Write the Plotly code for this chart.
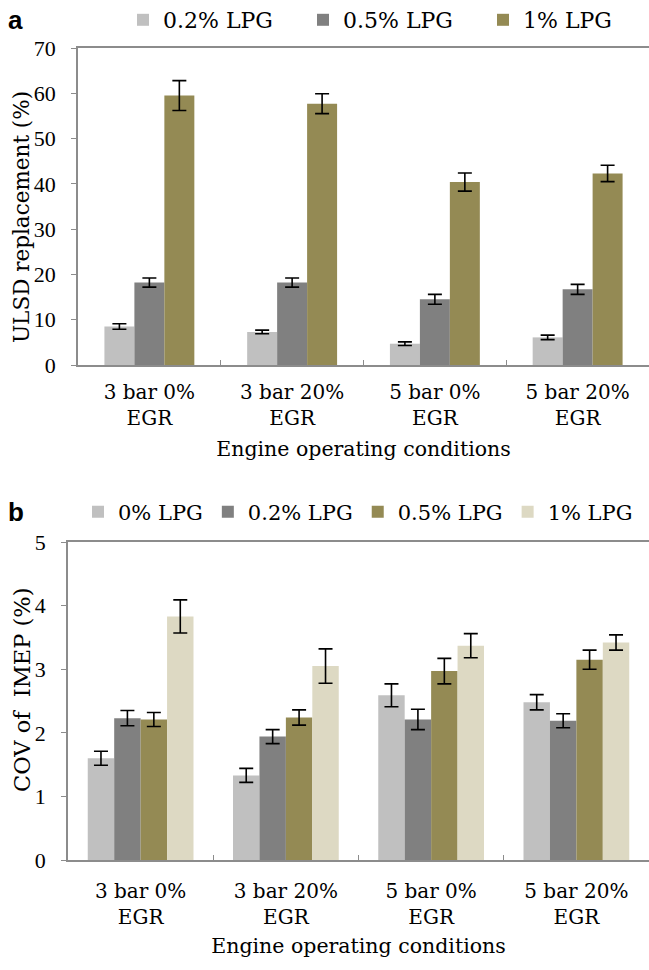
import plotly.graph_objects as go

# Engine operating conditions (x categories)
conditions = ["3 bar 0%<br>EGR", "3 bar 20%<br>EGR", "5 bar 0%<br>EGR", "5 bar 20%<br>EGR"]

# (a) ULSD replacement (%) with standard-deviation error bars
ulsd_names = ["0.2% LPG", "0.5% LPG", "1% LPG"]
ulsd_02 = [8.5, 7.3, 4.7, 6.1]
ulsd_02_err = [0.6, 0.4, 0.4, 0.5]
ulsd_05 = [18.2, 18.2, 14.5, 16.7]
ulsd_05_err = [1.0, 1.0, 1.1, 1.1]
ulsd_1 = [59.5, 57.7, 40.4, 42.3]
ulsd_1_err = [3.3, 2.2, 2.0, 1.8]

# (b) COV of IMEP (%) with error bars
cov_names = ["0% LPG", "0.2% LPG", "0.5% LPG", "1% LPG"]
cov_0 = [1.60, 1.33, 2.59, 2.48]
cov_0_err = [0.11, 0.11, 0.18, 0.12]
cov_02 = [2.23, 1.94, 2.21, 2.19]
cov_02_err = [0.12, 0.11, 0.16, 0.11]
cov_05 = [2.21, 2.24, 2.97, 3.15]
cov_05_err = [0.11, 0.12, 0.20, 0.15]
cov_1 = [3.83, 3.05, 3.37, 3.42]
cov_1_err = [0.26, 0.27, 0.19, 0.12]

ulsd_ticks = [0, 10, 20, 30, 40, 50, 60, 70]
cov_ticks = [0, 1, 2, 3, 4, 5]

LIGHT = "#c0c0c0"
DARK = "#808080"
OLIVE = "#948a54"
CREAM = "#ddd9c3"
AXIS = "#8c8c8c"
SERIF = "DejaVu Serif"
NUMS = "Liberation Serif"

W, H = 649, 970

fig = go.Figure()

# panel (a): three bars per group
wa = 0.21
for i, (name, vals, errs, col) in enumerate(zip(
        ulsd_names, [ulsd_02, ulsd_05, ulsd_1],
        [ulsd_02_err, ulsd_05_err, ulsd_1_err], [LIGHT, DARK, OLIVE])):
    fig.add_trace(go.Bar(
        x=conditions, y=vals, name=name, marker_color=col, marker_line_width=0,
        width=wa, offset=-1.5 * wa + i * wa,
        error_y=dict(type="data", array=errs, color="black", thickness=1.6, width=7),
        xaxis="x", yaxis="y", legend="legend"))

# panel (b): four bars per group
wb = 0.182
for i, (name, vals, errs, col) in enumerate(zip(
        cov_names, [cov_0, cov_02, cov_05, cov_1],
        [cov_0_err, cov_02_err, cov_05_err, cov_1_err], [LIGHT, DARK, OLIVE, CREAM])):
    fig.add_trace(go.Bar(
        x=conditions, y=vals, name=name, marker_color=col, marker_line_width=0,
        width=wb, offset=-2 * wb + i * wb,
        error_y=dict(type="data", array=errs, color="black", thickness=1.6, width=7),
        xaxis="x2", yaxis="y2", legend="legend2"))

def px_x(p):
    return p / W

def px_y(p):
    return 1 - p / H

xcommon = dict(
    type="category", showline=True, linecolor=AXIS, linewidth=1.5,
    ticks="inside", tickson="boundaries", ticklen=5, tickcolor=AXIS,
    tickfont=dict(family=SERIF, size=20, color="black"),
    showgrid=False, zeroline=False, fixedrange=True, automargin=False,
)
ycommon = dict(
    showline=True, linecolor=AXIS, linewidth=1.5, ticks="outside", ticklen=5,
    tickcolor=AXIS, tickfont=dict(family=NUMS, size=22, color="black"),
    showgrid=False, zeroline=False, fixedrange=True, automargin=False,
    ticklabelstandoff=11,
)

fig.update_layout(
    width=W, height=H,
    margin=dict(l=0, r=0, t=0, b=0, autoexpand=False),
    paper_bgcolor="white", plot_bgcolor="white",
    font=dict(family=SERIF, color="black"),
    barmode="group",
    xaxis=dict(xcommon, domain=[px_x(78), 1.0], anchor="y", mirror=True,
               ticklabelstandoff=8,
               title=dict(text="Engine operating conditions",
                          font=dict(family=SERIF, size=20.5), standoff=13)),
    yaxis=dict(ycommon, domain=[px_y(365), px_y(48)], anchor="x",
               range=[0, 70], tickvals=ulsd_ticks),
    xaxis2=dict(xcommon, domain=[px_x(68), 1.0], anchor="y2", mirror=True,
                ticklabelstandoff=12,
                title=dict(text="Engine operating conditions",
                           font=dict(family=SERIF, size=20.5), standoff=11)),
    yaxis2=dict(ycommon, domain=[px_y(860), px_y(542)], anchor="x2", mirror=True,
                range=[0, 5], tickvals=cov_ticks),
    legend=dict(orientation="h", x=px_x(123), y=px_y(20), xanchor="left",
                yanchor="middle", font=dict(family=SERIF, size=22),
                entrywidth=135, itemwidth=30, bgcolor="rgba(0,0,0,0)",
                traceorder="normal"),
    legend2=dict(orientation="h", x=px_x(78), y=px_y(512), xanchor="left",
                 yanchor="middle", font=dict(family=SERIF, size=21),
                 itemwidth=30, bgcolor="rgba(0,0,0,0)",
                 traceorder="normal"),
    annotations=[
        dict(text="<b>a</b>", x=px_x(6), y=px_y(20), xref="paper", yref="paper",
             xanchor="left", yanchor="middle", showarrow=False,
             font=dict(family="Liberation Sans", size=26, color="black")),
        dict(text="<b>b</b>", x=px_x(6), y=px_y(512), xref="paper", yref="paper",
             xanchor="left", yanchor="middle", showarrow=False,
             font=dict(family="Liberation Sans", size=26, color="black")),
        # y-axis titles
        dict(text="ULSD replacement (%)", x=px_x(22), y=px_y(217),
             xref="paper", yref="paper", xanchor="center", yanchor="middle",
             textangle=-90, showarrow=False,
             font=dict(family=SERIF, size=21.5, color="black")),
        dict(text="COV of  IMEP (%)", x=px_x(22), y=px_y(690),
             xref="paper", yref="paper", xanchor="center", yanchor="middle",
             textangle=-90, showarrow=False,
             font=dict(family=SERIF, size=22.5, color="black")),
    ],
)

fig.write_html("out.html")
